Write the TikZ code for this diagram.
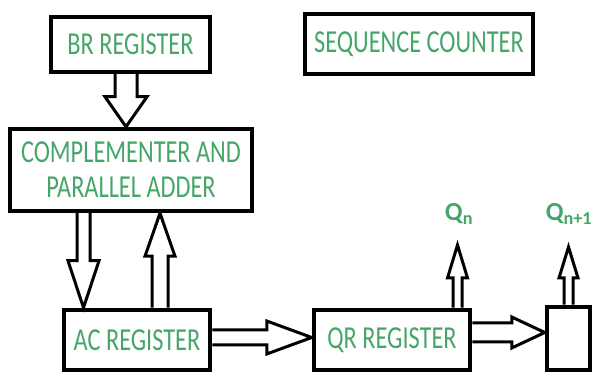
\documentclass[tikz,border=0pt]{standalone}
\usepackage{fontspec}
\setmainfont{Carlito}
\newfontfamily\boxfont{Carlito}[FakeStretch=0.76]
\usetikzlibrary{calc}
\definecolor{regtext}{RGB}{70,165,105}

\tikzset{
	box/.style={draw,line width=4.5pt,text=regtext,align=center,inner sep=0pt,
		font=\boxfont\fontsize{32}{35}\selectfont},
	blk/.style={draw,line width=3pt,line join=miter},
	qlabel/.style={text=regtext,font=\bfseries\fontsize{26}{28}\selectfont,inner sep=0pt}
}

% hollow block arrow: from, to, shaft half width, head half width, head length
\newcommand\blockarrow[5]{
	\coordinate (hb) at ($(#2)!#5pt!(#1)$);
	\draw[blk] ($(#1)!#3pt!90:(#2)$) -- ($(hb)!#3pt!-90:(#1)$) -- ($(hb)!#4pt!-90:(#1)$)
		-- (#2) -- ($(hb)!#4pt!90:(#1)$) -- ($(hb)!#3pt!90:(#1)$) -- ($(#1)!#3pt!-90:(#2)$);
}

\begin{document}
\begin{tikzpicture}[x=1pt,y=1pt]
\useasboundingbox (0,0) rectangle (594,374);

\foreach \n/\x/\y/\w/\h/\t in {br/130.5/329.5/159/55/{BR REGISTER},
	seq/419/330/228/60/{SEQUENCE COUNTER},
	comp/131/204/242/82/{COMPLEMENTER AND\\PARALLEL ADDER},
	ac/137/34/146/60/{AC REGISTER},
	qr/392/34/156/60/{QR REGISTER},
	ff/568.5/35.5/43/63/{}}
	\node[box,minimum width=\w pt,minimum height=\h pt] (\n) at (\x,\y) {\t};

\node[qlabel] (qn) at (459,160) {Q\textsubscript{n}};
\node[qlabel] (qn1) at (569,160) {Q\textsubscript{n+1}};

\coordinate (a1) at (126,0 |- br.south);
\coordinate (b1) at (126,0 |- comp.north);
\coordinate (a2) at (83.5,0 |- comp.south);
\coordinate (b2) at (83.5,0 |- ac.north);
\coordinate (a3) at (160,0 |- ac.north);
\coordinate (b3) at (160,0 |- comp.south);
\coordinate (a4) at (ac.east |- 0,36.5);
\coordinate (b4) at (qr.west |- 0,36.5);
\coordinate (a5) at (qr.east |- 0,41.5);
\coordinate (b5) at (ff.west |- 0,41.5);
\coordinate (a6) at (457.5,0 |- qr.north);
\coordinate (b6) at (457.5,129);
\coordinate (a7) at (ff.north);
\coordinate (b7) at (ff.north |- 0,127);

\foreach \s/\e/\w/\h/\l in {a1/b1/11/21/30,a2/b2/6.5/15.5/47,a3/b3/8/15/43,
	a4/b4/7.5/16.5/45,a5/b5/9.5/15.5/33,a6/b6/4.5/10/33,a7/b7/4.5/9.5/31}
	{\blockarrow{\s}{\e}{\w}{\h}{\l}}

\end{tikzpicture}
\end{document}
